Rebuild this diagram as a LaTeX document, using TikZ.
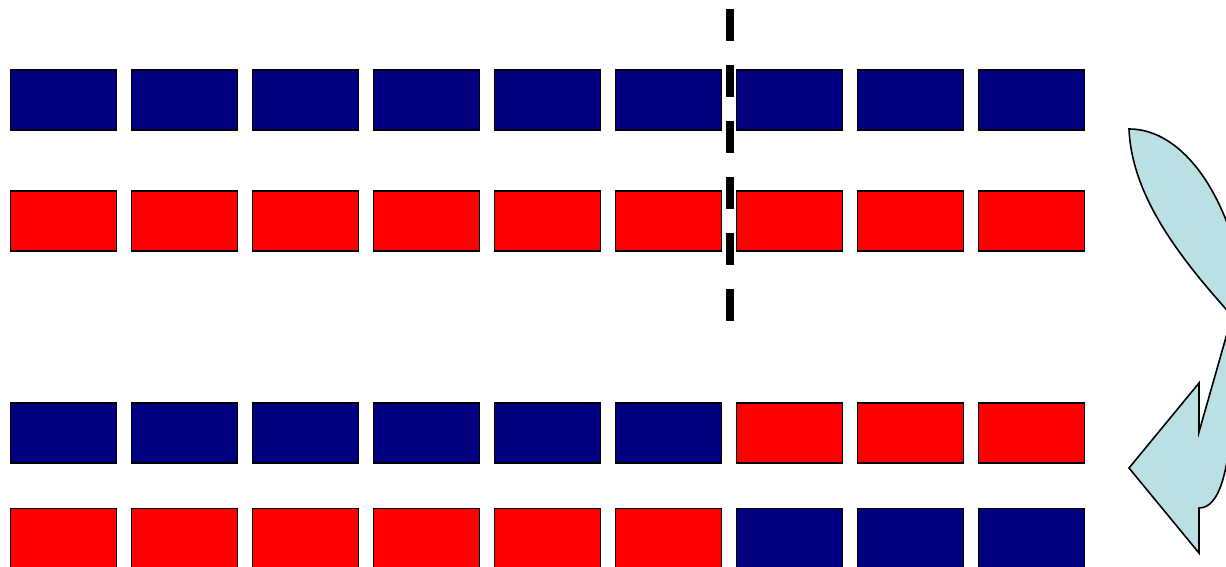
\documentclass[tikz,border=0pt]{standalone}
\definecolor{navyb}{HTML}{000080}
\definecolor{redb}{HTML}{FF0000}
\definecolor{arrowfill}{HTML}{BBE0E3}
\tikzset{
  cell/.style={draw=black, line width=1.5pt, minimum width=106pt, minimum height=60pt, inner sep=0pt, anchor=north west},
  bcell/.style={cell, fill=navyb},
  rcell/.style={cell, fill=redb},
  cutline/.style={line width=8pt, dash pattern=on 32pt off 24pt},
  curvarrow/.style={draw=black, line width=1.6pt, fill=arrowfill, line join=miter}
}
\begin{document}
\begin{tikzpicture}[x=1pt,y=-1pt]
\useasboundingbox (0,0) rectangle (1226,566);
% row 1 blue, row 2 red
\foreach \i in {0,...,8} {
  \node[bcell] (a\i) at ({9.8+121*\i},69) {};
  \node[rcell] (b\i) at ({9.8+121*\i},190) {};
}
% row 3: six blue then three red; row 4: six red then three blue
\foreach \i in {0,...,5} {
  \node[bcell] (c\i) at ({9.8+121*\i},402) {};
  \node[rcell] (d\i) at ({9.8+121*\i},507.5) {};
}
\foreach \i in {6,7,8} {
  \node[rcell] (c\i) at ({9.8+121*\i},402) {};
  \node[bcell] (d\i) at ({9.8+121*\i},507.5) {};
}
% cut line
\coordinate (cuttop) at (730,9);
\coordinate (cutbot) at (730,321);
\draw[cutline] (cuttop) -- (cutbot);
% curved arrow (partly outside the page)
\begin{scope}
\clip (0,0) rectangle (1226,566);
\draw[curvarrow] (1129,129) .. controls (1195,129) and (1249,228) .. (1249,350)
  -- (1245,330) .. controls (1185,265) and (1132,200) .. (1129,129) -- cycle;
\draw[curvarrow] (1240,288) -- (1199,432) -- (1199,383) -- (1129,468) -- (1199,553) -- (1199,508)
  .. controls (1220,508) and (1228,470) .. (1232,420) -- (1250,420) -- (1250,288) -- cycle;
\end{scope}
\end{tikzpicture}
\end{document}
